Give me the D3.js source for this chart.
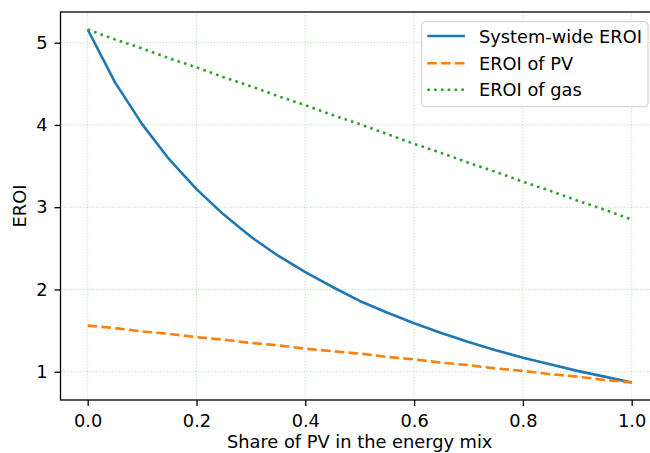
<!DOCTYPE html>
<html><head><meta charset="utf-8">
<script src="https://cdn.jsdelivr.net/npm/d3@7"></script>
<style>body{margin:0;background:#fff;} svg{display:block;font-family:"DejaVu Sans",sans-serif;}</style>
</head><body><svg id="chart" width="650" height="453"></svg>
<script>
const share = [0,0.05,0.1,0.15,0.2,0.25,0.3,0.35,0.4,0.45,0.5,0.55,0.6,0.65,0.7,0.75,0.8,0.85,0.9,0.95,1.0];
const systemEROI = [5.16,4.52,4.01,3.58,3.22,2.91,2.64,2.41,2.21,2.03,1.86,1.72,1.59,1.47,1.36,1.26,1.17,1.09,1.01,0.94,0.87];
const pvEROI = [1.56,1.53,1.49,1.46,1.42,1.39,1.35,1.32,1.28,1.25,1.22,1.18,1.15,1.11,1.08,1.04,1.01,0.97,0.94,0.90,0.87];
const gasEROI = [5.16,5.04,4.93,4.81,4.70,4.58,4.47,4.35,4.24,4.12,4.01,3.89,3.77,3.66,3.54,3.43,3.31,3.20,3.08,2.97,2.85];
const xTicks = [0,0.2,0.4,0.6,0.8,1.0];
const yTicks = [1,2,3,4,5];
const seriesNames = ["System-wide EROI","EROI of PV","EROI of gas"];
const seriesColors = ["#1f77b4","#ff7f0e","#2ca02c"];
const seriesDash = [null,"9.6,4.2","2.6,4.2"];
const xLabel = "Share of PV in the energy mix";
const yLabel = "EROI";

const svg = d3.select("#chart");
const L = 60.5, R = 658.9, T = 12, B = 400;
const x = d3.scaleLinear().domain([-0.05,1.05]).range([L,R]);
const y = d3.scaleLinear().domain([0.656,5.373]).range([B,T]);
const FS = 17.8;

// grid
const g = svg.append("g");
g.selectAll(".gx").data(xTicks).enter().append("line")
  .attr("x1",d=>x(d)).attr("x2",d=>x(d)).attr("y1",T).attr("y2",B)
  .attr("stroke","#9fd49f").attr("stroke-width",0.8).attr("stroke-dasharray","1.2,2");
g.selectAll(".gy").data(yTicks).enter().append("line")
  .attr("x1",L).attr("x2",R).attr("y1",d=>y(d)).attr("y2",d=>y(d))
  .attr("stroke","#9fd49f").attr("stroke-width",0.8).attr("stroke-dasharray","1.2,2");

// lines
const data = [systemEROI, pvEROI, gasEROI];
const line = d3.line().x((d,i)=>x(share[i])).y(d=>y(d));
data.forEach((vals,k)=>{
  svg.append("path").datum(vals).attr("d",line)
    .attr("fill","none").attr("stroke",seriesColors[k]).attr("stroke-width",2.6)
    .attr("stroke-dasharray",seriesDash[k]).attr("stroke-linejoin","round");
});

// spines
svg.append("rect").attr("x",L).attr("y",T).attr("width",R-L).attr("height",B-T)
  .attr("fill","none").attr("stroke","#000").attr("stroke-width",1.3);

// axes
const xa = svg.append("g").attr("transform",`translate(0,${B})`)
  .call(d3.axisBottom(x).tickValues(xTicks).tickFormat(d3.format(".1f")).tickSize(6).tickPadding(8));
const ya = svg.append("g").attr("transform",`translate(${L},0)`)
  .call(d3.axisLeft(y).tickValues(yTicks).tickFormat(d3.format("d")).tickSize(6).tickPadding(7));
[xa,ya].forEach(a=>{
  a.select(".domain").remove();
  a.selectAll(".tick line").attr("stroke","#000").attr("stroke-width",1.3);
  a.selectAll(".tick text").attr("font-size",FS).attr("fill","#000").attr("font-family","DejaVu Sans");
});

// axis labels
svg.append("text").attr("x",(L+R)/2).attr("y",448.3).attr("text-anchor","middle")
  .attr("font-size",FS).attr("fill","#000").text(xLabel);
svg.append("text").attr("transform",`translate(26,${(T+B)/2}) rotate(-90)`).attr("text-anchor","middle")
  .attr("font-size",FS).attr("fill","#000").text(yLabel);

// legend
const lg = svg.append("g");
lg.append("rect").attr("x",421.7).attr("y",21.7).attr("width",226.3).attr("height",85).attr("rx",3.5)
  .attr("fill","#fff").attr("fill-opacity",0.8).attr("stroke","#cccccc").attr("stroke-width",1);
const rows = [36,63.3,89.7];
seriesNames.forEach((n,k)=>{
  lg.append("line").attr("x1",427.3).attr("x2",465).attr("y1",rows[k]).attr("y2",rows[k])
    .attr("stroke",seriesColors[k]).attr("stroke-width",2.6).attr("stroke-dasharray",seriesDash[k]);
  lg.append("text").attr("x",479).attr("y",rows[k]+6.5).attr("font-size",FS).attr("fill","#000").text(n);
});
</script></body></html>
